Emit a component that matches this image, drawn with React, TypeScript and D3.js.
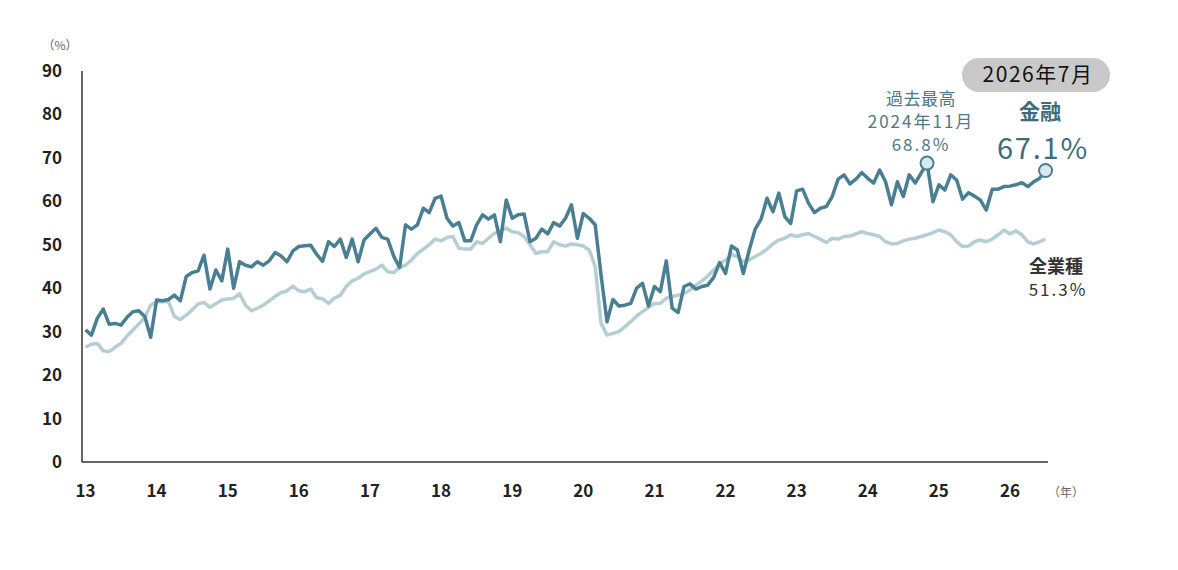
import { useRef, useEffect } from 'react';
import * as d3 from 'd3';

// monthly values, Jan 2013 – Jul 2026
const financeRate = [
    30.4, 29.2, 33.1, 35.2, 31.7, 31.9, 31.5, 33.3, 34.6, 34.8, 33.5, 28.7,
    37.3, 37.1, 37.4, 38.4, 37.1, 42.7, 43.6, 44.0, 47.6, 39.8, 44.2, 41.7,
    49.0, 40.0, 46.1, 45.3, 44.9, 46.1, 45.3, 46.3, 48.2, 47.4, 46.1, 48.6,
    49.6, 49.8, 49.9, 47.8, 46.2, 50.7, 49.6, 51.3, 47.1, 51.3, 46.1, 51.1,
    52.5, 53.8, 51.7, 51.3, 47.4, 44.8, 54.6, 53.6, 54.6, 58.4, 57.4, 60.7,
    61.2, 56.1, 54.3, 55.1, 50.9, 50.9, 54.6, 56.9, 55.9, 56.9, 50.7, 60.3,
    56.1, 56.9, 57.1, 50.7, 51.5, 53.6, 52.5, 55.1, 54.3, 56.1, 59.2, 51.5,
    57.2, 56.1, 54.6, 43.0, 32.3, 37.4, 35.9, 36.1, 36.5, 40.0, 41.1, 35.9,
    40.4, 39.2, 46.3, 35.4, 34.4, 40.4, 41.0, 39.8, 40.4, 40.7, 42.5, 45.9,
    43.4, 49.7, 48.8, 43.4, 48.8, 53.6, 55.9, 60.7, 57.6, 61.9, 56.5, 54.9,
    62.4, 62.8, 59.6, 57.4, 58.4, 58.8, 61.1, 65.1, 66.1, 64.0, 65.1, 66.6,
    65.3, 64.2, 67.2, 64.5, 59.2, 64.5, 61.1, 66.1, 64.2, 66.5, 68.8, 59.9,
    63.8, 62.6, 66.1, 64.9, 60.5, 62.0, 61.2, 60.3, 58.0, 62.8, 62.8, 63.4,
    63.5, 63.8, 64.3, 63.4, 64.5, 65.3, 67.1,
];

const allIndustryRate = [
    26.4, 27.1, 27.3, 25.6, 25.4, 26.4, 27.3, 29.0, 30.4, 31.8, 33.3, 36.1,
    36.9, 36.9, 36.9, 33.5, 32.8, 33.8, 35.0, 36.4, 36.7, 35.6, 36.4, 37.3,
    37.5, 37.7, 38.7, 36.1, 34.8, 35.4, 36.1, 37.1, 38.1, 39.0, 39.4, 40.5,
    39.4, 39.2, 39.8, 37.8, 37.6, 36.5, 37.7, 38.4, 40.4, 41.7, 42.3, 43.3,
    43.8, 44.4, 45.3, 43.8, 43.6, 44.8, 45.3, 46.5, 48.0, 49.0, 50.0, 51.3,
    50.9, 51.7, 51.9, 49.2, 49.0, 49.0, 50.7, 50.3, 51.5, 52.6, 53.2, 53.8,
    53.0, 52.8, 51.9, 50.0, 48.0, 48.4, 48.4, 50.7, 50.0, 49.7, 50.2, 50.0,
    49.7, 48.8, 45.0, 31.9, 29.2, 29.6, 30.0, 31.1, 32.3, 33.6, 34.6, 35.6,
    36.5, 36.5, 37.7, 38.1, 38.4, 38.8, 39.6, 40.7, 41.7, 42.8, 44.2, 45.6,
    46.5, 47.7, 47.3, 46.1, 46.5, 47.3, 48.0, 49.0, 50.2, 51.1, 51.5, 52.3,
    51.9, 52.3, 52.6, 51.9, 51.3, 50.5, 51.5, 51.3, 51.9, 52.0, 52.5, 53.0,
    52.6, 52.3, 51.9, 50.7, 50.2, 50.3, 50.9, 51.3, 51.5, 51.9, 52.3, 52.8,
    53.4, 53.0, 52.3, 50.7, 49.6, 49.7, 50.7, 51.1, 50.7, 51.3, 52.3, 53.4,
    52.5, 53.2, 52.3, 50.7, 50.2, 50.7, 51.3,
];

const yearLabels = ['13', '14', '15', '16', '17', '18', '19', '20', '21', '22', '23', '24', '25', '26'];
const yTicks = [0, 10, 20, 30, 40, 50, 60, 70, 80, 90];

const peakIndex = 142; // 2024年11月
const FONT = '"Noto Sans CJK JP", "Noto Sans", sans-serif';
const DARK = '#4a7f93';
const LIGHT = '#b5ced4';

export default function App() {
    const svgRef = useRef<SVGSVGElement>(null);

    useEffect(() => {
        if (!svgRef.current) return;
        const width = 1178;
        const height = 570;

        d3.select(svgRef.current).selectAll('*').remove();
        const svg = d3.select(svgRef.current)
            .attr('width', width)
            .attr('height', height)
            .style('font-family', FONT);

        const x = d3.scaleLinear().domain([0, 156]).range([85.5, 1010]);
        const y = d3.scaleLinear().domain([0, 90]).range([462, 71]);

        // Axes
        svg.append('line')
            .attr('x1', 82).attr('x2', 82)
            .attr('y1', y(90)).attr('y2', y(0))
            .attr('stroke', '#333').attr('stroke-width', 1.5);
        svg.append('line')
            .attr('x1', 82).attr('x2', 1048)
            .attr('y1', y(0)).attr('y2', y(0))
            .attr('stroke', '#333').attr('stroke-width', 1.5);

        svg.append('g')
            .selectAll('text')
            .data(yTicks)
            .enter()
            .append('text')
            .attr('x', 62)
            .attr('y', d => y(d))
            .attr('dy', '0.35em')
            .attr('text-anchor', 'end')
            .attr('fill', '#222')
            .attr('font-weight', 'bold')
            .style('font-size', '17px')
            .text(d => d);

        svg.append('g')
            .selectAll('text')
            .data(yearLabels)
            .enter()
            .append('text')
            .attr('x', (d, i) => x(i * 12))
            .attr('y', 497)
            .attr('text-anchor', 'middle')
            .attr('fill', '#222')
            .attr('font-weight', 'bold')
            .style('font-size', '17px')
            .text(d => d);

        svg.append('text')
            .attr('x', 60).attr('y', 50)
            .attr('text-anchor', 'middle')
            .attr('fill', '#666')
            .style('font-size', '12px')
            .text('（%）');

        svg.append('text')
            .attr('x', 1066).attr('y', 497)
            .attr('text-anchor', 'middle')
            .attr('fill', '#666')
            .style('font-size', '12px')
            .text('（年）');

        // Lines
        const line = d3.line<number>()
            .x((d, i) => x(i))
            .y(d => y(d));

        svg.append('path')
            .datum(allIndustryRate)
            .attr('fill', 'none')
            .attr('stroke', LIGHT)
            .attr('stroke-width', 3.5)
            .attr('stroke-linejoin', 'round')
            .attr('d', line);

        svg.append('path')
            .datum(financeRate)
            .attr('fill', 'none')
            .attr('stroke', DARK)
            .attr('stroke-width', 3.5)
            .attr('stroke-linejoin', 'round')
            .attr('d', line);

        // Markers
        const last = financeRate.length - 1;
        [peakIndex, last].forEach(i => {
            svg.append('circle')
                .attr('cx', x(i))
                .attr('cy', y(financeRate[i]))
                .attr('r', 6.5)
                .attr('fill', '#d9e9ef')
                .attr('stroke', DARK)
                .attr('stroke-width', 2);
        });

        // Peak annotation
        const peakX = x(peakIndex);
        ['過去最高', '2024年11月', `${financeRate[peakIndex].toFixed(1)}%`].forEach((t, k) => {
            svg.append('text')
                .attr('x', peakX - 6)
                .attr('y', 105 + k * 23)
                .attr('text-anchor', 'middle')
                .attr('fill', '#4d7886')
                .style('font-size', '17px')
                .style('letter-spacing', k === 0 ? '0.5px' : '2px')
                .text(t);
        });

        // Date pill
        svg.append('rect')
            .attr('x', 962).attr('y', 58)
            .attr('width', 148).attr('height', 34)
            .attr('rx', 17)
            .attr('fill', '#c9c9c9');
        svg.append('text')
            .attr('x', 1038).attr('y', 75)
            .attr('dy', '0.35em')
            .attr('text-anchor', 'middle')
            .attr('fill', '#111')
            .style('font-size', '21px')
            .style('letter-spacing', '1.5px')
            .text('2026年7月');

        // Finance label
        svg.append('text')
            .attr('x', 1040).attr('y', 119)
            .attr('text-anchor', 'middle')
            .attr('fill', '#3e6c7b')
            .attr('font-weight', 'bold')
            .style('font-size', '21px')
            .text('金融');
        svg.append('text')
            .attr('x', 1043).attr('y', 159)
            .attr('text-anchor', 'middle')
            .attr('fill', '#3e6c7b')
            .style('font-size', '29px')
            .style('letter-spacing', '1.8px')
            .text(`${financeRate[last].toFixed(1)}%`);

        // All-industry label
        svg.append('text')
            .attr('x', 1056).attr('y', 273)
            .attr('text-anchor', 'middle')
            .attr('fill', '#333')
            .attr('font-weight', 'bold')
            .style('font-size', '18px')
            .text('全業種');
        svg.append('text')
            .attr('x', 1058).attr('y', 296)
            .attr('text-anchor', 'middle')
            .attr('fill', '#333')
            .style('font-size', '17px')
            .style('letter-spacing', '2px')
            .text(`${allIndustryRate[last].toFixed(1)}%`);
    }, []);

    return (
        <div style={{ position: 'absolute', left: 0, top: 0, width: 1178, height: 570, background: '#fff' }}>
            <svg ref={svgRef}></svg>
        </div>
    );
}
